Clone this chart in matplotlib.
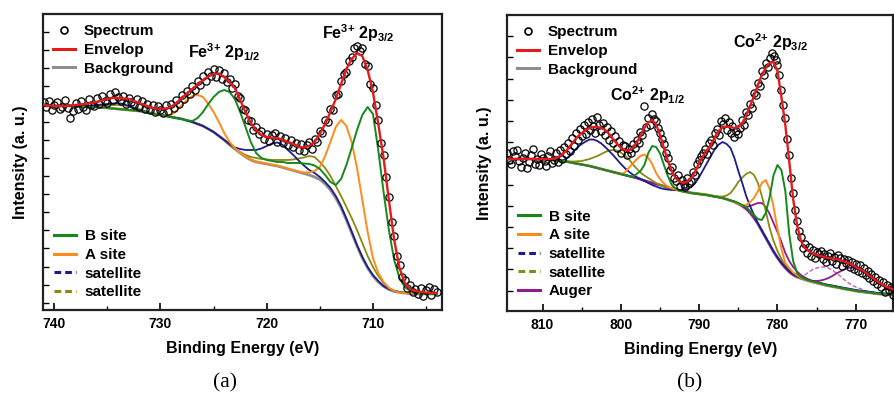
import numpy as np
import matplotlib
matplotlib.use("Agg")
import matplotlib.pyplot as plt
from matplotlib.lines import Line2D
from matplotlib.ticker import MultipleLocator, FixedLocator

plt.rcParams['font.family'] = ['Liberation Sans', 'DejaVu Sans']
plt.rcParams['mathtext.fontset'] = 'custom'
plt.rcParams['mathtext.rm'] = 'Liberation Sans'
plt.rcParams['mathtext.bf'] = 'Liberation Sans:bold'
plt.rcParams['mathtext.default'] = 'bf'

# ---------------- (a) Fe 2p ----------------
# fitted curves, 0.5 eV steps from 741 to 704 eV (intensity in a.u.)
energy_a = np.linspace(741, 704, 75)

bg_a = [204, 204, 204, 204, 204, 204, 204, 203.5, 203, 203,
        203, 202.5, 202, 201.5, 201, 200.5, 200, 199.5, 199, 198,
        197, 196, 195, 194, 193, 192, 191, 189.5, 188, 186,
        184, 181, 178, 174, 170, 165, 161, 157, 153, 150,
        148, 147, 146, 145, 144, 142.5, 141, 139.5, 138, 136.5,
        135, 133, 130.5, 126, 120, 112, 102, 90, 77, 64,
        52, 42, 34, 28, 23.5, 20.5, 18.5, 17.5, 17, 16.5,
        16, 16, 16, 16, 16]

env_a = [205, 204.5, 204, 204, 204, 204.5, 205, 205.5, 206, 207,
         208, 209.5, 211, 212, 212, 211.5, 211, 209, 207, 205,
         203, 201.5, 201, 201.5, 203, 207, 212, 216.5, 221, 225.5,
         230, 233.5, 236, 236.5, 233, 228, 222, 210, 198, 187,
         180, 175, 173, 172, 172, 170, 168, 166, 163, 162.5,
         164, 168, 176, 186, 198, 211, 226, 241, 251, 257,
         254, 240, 218, 186, 152, 110, 70, 42, 27, 21,
         19, 18, 17.5, 17, 17]

bsite_a = [204, 204, 204, 204, 204, 204, 204, 203.5, 203, 203,
           203, 202.5, 202, 201.5, 201, 200.5, 200, 199.5, 199, 198,
           197, 196, 195, 194, 193, 192, 191, 189.5, 189, 192,
           198, 206, 213, 218, 220, 218, 211, 198, 183, 168,
           157, 152, 150, 149, 148, 148, 147, 147, 147, 146.5,
           146, 144.5, 141, 135, 128, 125, 131, 145, 162, 180,
           195, 203, 196, 160, 118, 80, 50, 32, 23, 19,
           17, 16.5, 16, 16, 16]

asite_a = [204, 204, 204, 204, 204, 204, 204, 203.5, 203, 203,
           203, 202.5, 202, 201.5, 201, 200.5, 200, 199.5, 199, 198,
           197, 196, 195, 194, 195, 199, 205, 210, 214, 215,
           213, 206, 198, 188, 177, 168, 162, 157.5, 153.5, 150.5,
           148.5, 147.5, 146.5, 145.5, 144.5, 143, 141.5, 140, 138.5, 137.5,
           137.5, 139, 143, 154, 168, 183, 190, 184, 168, 142,
           110, 78, 52, 37, 28, 22, 19, 17.5, 17, 16.5,
           16, 16, 16, 16, 16]

sat1_a = [204, 204, 204, 204, 204, 204, 204, 204, 204, 204.5,
          205, 205.5, 206, 206.5, 207, 206, 204, 202, 200, 198.5,
          197, 196, 195, 194, 193, 192, 191, 189.5, 188, 186,
          184, 181, 178, 174, 170, 166, 162.5, 161, 160, 160,
          160, 161.5, 164, 166.5, 167.5, 165, 160, 155, 149.5, 144.5,
          140, 137, 133, 128, 122, 114, 104, 91.5, 78.5, 65,
          53, 43, 35, 29, 24, 21, 19, 18, 17, 16.5,
          16, 16, 16, 16, 16]

sat2_a = [204, 204, 204, 204, 204, 204, 204, 204, 204, 204,
          204, 204.5, 205, 205, 205, 204.5, 204, 202.5, 201, 199,
          197, 196, 195, 194, 193, 192, 191, 189.5, 188, 186,
          184, 181, 178, 174, 170, 165.5, 161.5, 158, 155, 153,
          152, 151, 150.5, 150, 150, 150, 150, 150.5, 151.5, 152.5,
          154, 153, 148, 142, 134, 124, 114, 103, 92, 80,
          67, 54, 43, 34, 27, 22, 19.5, 18, 17, 16.5,
          16, 16, 16, 16, 16]

# measured spectrum, 0.25 eV steps from 741 to 704 eV
spec_energy_a = np.linspace(741, 704, 149)
spec_a = [208, 203, 209, 200, 205, 208, 201, 203, 210, 202,
          192, 199, 207, 201, 209, 203, 200, 211, 205, 204,
          212, 206, 214, 209, 207, 216, 210, 218, 213, 209,
          214, 206, 212, 208, 205, 211, 203, 209, 201, 206,
          200, 205, 198, 204, 200, 197, 205, 199, 206, 202,
          210, 206, 215, 211, 219, 216, 224, 220, 229, 225,
          234, 229, 238, 234, 241, 233, 240, 231, 237, 228,
          231, 222, 226, 214, 212, 201, 200, 190, 189, 180,
          183, 176, 179, 171, 176, 169, 175, 177, 168, 174,
          167, 172, 165, 170, 163, 167, 160, 166, 159, 165,
          168, 161, 171, 168, 179, 177, 190, 188, 201, 200,
          215, 216, 229, 236, 238, 249, 253, 262, 264, 259,
          262, 246, 244, 226, 222, 205, 190, 167, 155, 133,
          113, 88, 74, 54, 45, 33, 30, 22, 25, 18,
          21, 16, 22, 14, 20, 23, 15, 21, 18]

# ---------------- (b) Co 2p ----------------
# fitted curves, 0.5 eV steps from 815 to 765 eV
energy_b = np.linspace(815, 765, 101)

bg_b = [152, 152, 152, 152, 152, 152, 152, 152, 152, 151.8,
        151.5, 151.2, 151, 150.8, 150.5, 150, 149.5, 148.8, 148, 147.2,
        146.5, 145.8, 145, 144, 143, 142, 141, 140, 139, 138,
        137, 136, 135, 134, 133, 131.8, 130.5, 129.2, 128, 127,
        126, 124.8, 123.5, 122.5, 121.5, 120.5, 119.5, 118.8, 118, 117.5,
        117, 116.5, 116, 115.2, 114.5, 113.8, 113, 111.8, 110.5, 109,
        107, 104.8, 102, 98, 93, 87, 80, 73, 66, 59,
        53, 47.5, 43, 39, 36, 34, 32.5, 31.2, 30, 29,
        28, 27, 26, 25.2, 24.5, 23.8, 23, 22.2, 21.5, 20.8,
        20, 19.5, 19, 18.5, 18, 17.5, 17, 16.8, 16.5, 16.2,
        16]

env_b = [152, 152, 152, 152, 152, 152, 152, 152, 152, 152,
         152, 152, 152, 152.5, 154, 156.5, 160, 165, 170, 174.5,
         178, 181, 183, 184, 184, 183, 181, 177, 172, 167.5,
         163, 161, 160.5, 163, 168, 175, 183, 188.5, 191, 186.5,
         176, 163, 150, 140, 133, 129.5, 128, 129.5, 133, 139.5,
         148, 155, 161, 166, 174, 180, 184, 184.5, 184, 183,
         184, 188, 195, 205, 215, 226, 236, 243, 248, 249,
         240, 214, 186, 150, 112, 86, 70, 63, 60, 58,
         56, 55, 54, 53, 52.5, 52, 51, 49.5, 48, 46.5,
         44, 42, 40, 37, 34, 31, 28.5, 26, 24, 22.5,
         21]

bsite_b = [152, 152, 152, 152, 152, 152, 152, 152, 152, 151.8,
           151.5, 151.2, 151, 150.8, 150.5, 150, 149.5, 148.8, 148, 147.2,
           146.5, 145.8, 145, 144, 143, 142, 141, 140, 139, 138,
           137, 136, 135, 134, 137, 140, 146, 158, 165, 164,
           157.5, 146, 135, 126, 122.5, 120.5, 119.5, 118.8, 118, 117.5,
           117, 116.5, 116, 115.2, 114.5, 113.8, 113, 111.8, 110.5, 109.5,
           108, 106, 104, 100, 96, 92, 91, 98, 114, 136,
           146, 141, 120, 77, 50, 38, 34, 32, 30.5, 29.5,
           28.5, 27.5, 26.5, 25.5, 24.8, 24, 23.2, 22.4, 21.7, 21,
           20.2, 19.7, 19.2, 18.7, 18.2, 17.7, 17.2, 16.9, 16.6, 16.3,
           16]

asite_b = [152, 152, 152, 152, 152, 152, 152, 152, 152, 151.8,
           151.5, 151.2, 151, 150.8, 150.5, 150, 149.5, 148.8, 148, 147.2,
           146.5, 145.8, 145, 144, 143, 142, 141, 140, 139, 138,
           137, 138.5, 143, 147.5, 151.5, 155, 156.5, 153, 147, 138,
           132, 127.5, 124.5, 122.5, 121.5, 120.5, 119.5, 118.8, 118, 117.5,
           117, 116.5, 116, 115.2, 114.5, 113.8, 113, 111.8, 110.5, 109,
           107, 105.5, 106, 109, 113, 120, 128, 131, 122, 104,
           82, 62, 48, 43, 38.5, 35.8, 33.2, 31.6, 30.1, 29,
           28, 27, 26, 25.2, 24.5, 23.8, 23, 22.2, 21.5, 20.8,
           20, 19.5, 19, 18.5, 18, 17.5, 17, 16.8, 16.5, 16.2,
           16]

sat1_b = [152, 152, 152, 152, 152, 152, 152, 152, 152, 151.8,
          151.5, 151.2, 151, 150.8, 150.5, 150.5, 152, 155.5, 160, 164,
          167, 169.5, 171.5, 171.5, 170, 167.5, 164, 160, 156, 151.5,
          147, 143, 139.5, 136.5, 134, 132, 130, 128, 126, 124.5,
          123, 122, 121.5, 121, 121, 121, 121, 122, 124, 128,
          134, 141, 148, 155, 162, 166.5, 169, 167, 163, 153,
          140, 128, 115, 105, 96, 88, 81, 74, 67, 60,
          54, 48.5, 44, 40, 37, 35, 33.5, 32.2, 31, 30,
          29, 28, 27, 26.2, 25.5, 24.8, 24, 23.2, 22.5, 21.8,
          21, 20.5, 20, 19.5, 19, 18.5, 18, 17.8, 17.5, 17.2,
          17]

sat2_b = [152, 152, 152, 152, 152, 152, 152, 152, 152, 151.8,
          151.5, 151.2, 151, 150.8, 150.5, 150, 149.8, 149.5, 149.5, 149.8,
          150, 151, 152, 153.5, 155, 157, 159, 160.5, 161, 160.5,
          158.5, 155.5, 152, 147, 142.5, 138.5, 135.5, 133, 130.5, 128,
          126, 124.5, 123.5, 122.5, 122, 121, 120, 119, 118.5, 118,
          117.5, 117, 116.5, 115.8, 115, 114.5, 114.5, 115.5, 118, 123,
          129, 133.5, 137, 139, 136, 128, 115, 100, 83, 70,
          60, 52, 46, 41, 37.5, 35, 33, 31.7, 30.5, 29.5,
          28.5, 27.5, 26.5, 25.7, 25, 24.3, 23.5, 22.7, 22, 21.3,
          20.5, 20, 19.5, 19, 18.5, 18, 17.5, 17.3, 17, 16.7,
          16.5]

auger1_b = [152, 152, 152, 152, 152, 152, 152, 152, 152, 151.8,
            151.5, 151.2, 151, 150.8, 150.5, 150, 149.5, 148.8, 148, 147.2,
            146.5, 145.8, 145, 144, 143, 142, 141, 140, 139, 138,
            137, 136, 135, 134, 133, 131.8, 130.5, 129.2, 128, 127,
            126, 124.8, 123.5, 122.5, 121.5, 120.5, 119.5, 118.8, 118, 117.5,
            117, 116.5, 116, 115.2, 114.5, 113.8, 113, 111.8, 110.5, 109.5,
            107.5, 105.5, 104, 105, 106.5, 108, 108, 104, 97, 88,
            79, 69, 58, 50, 44, 39.5, 36, 33.5, 31.5, 30,
            28.8, 27.6, 26.5, 25.3, 24.5, 23.8, 23, 22.2, 21.5, 20.8,
            20, 19.5, 19, 18.5, 18, 17.5, 17, 16.8, 16.5, 16.2,
            16]

auger2_b = [152, 152, 152, 152, 152, 152, 152, 152, 152, 151.8,
            151.5, 151.2, 151, 150.8, 150.5, 150, 149.5, 148.8, 148, 147.2,
            146.5, 145.8, 145, 144, 143, 142, 141, 140, 139, 138,
            137, 136, 135, 134, 133, 131.8, 130.5, 129.2, 128, 127,
            126, 124.8, 123.5, 122.5, 121.5, 120.5, 119.5, 118.8, 118, 117.5,
            117, 116.5, 116, 115.2, 114.5, 113.8, 113, 111.8, 110.5, 109,
            107, 104.8, 102, 98, 93, 87, 80, 73, 66, 59,
            53, 47.5, 43, 39, 36, 34.5, 34, 36, 39, 41.5,
            43, 44, 44, 43, 41, 38, 35, 31.5, 28.5, 26,
            24, 22.5, 21, 19.8, 18.8, 18, 17.3, 16.8, 16.5, 16.2,
            16]

auger3_b = [152, 152, 152, 152, 152, 152, 152, 152, 152, 151.8,
            151.5, 151.2, 151, 150.8, 150.5, 150, 149.5, 148.8, 148, 147.2,
            146.5, 145.8, 145, 144, 143, 142, 141, 140, 139, 138,
            137, 136, 135, 134, 133, 131.8, 130.5, 129.2, 128, 127,
            126, 124.8, 123.5, 122.5, 121.5, 120.5, 119.5, 118.8, 118, 117.5,
            117, 116.5, 116, 115.2, 114.5, 113.8, 113, 111.8, 110.5, 109,
            107, 104.8, 102, 98, 93, 87, 80, 73, 66, 59,
            53, 47.5, 43, 39, 36, 34, 32.8, 31.5, 30.5, 30,
            30, 30.5, 31.5, 33, 35, 37.5, 39.5, 41.5, 43, 43.5,
            42.5, 41, 39, 36.5, 34, 31, 28, 25.5, 23, 21,
            19]

# measured spectrum, 0.25 eV steps from 814.5 to 765 eV
spec_energy_b = np.linspace(814.5, 765, 199)
spec_b = [158, 151, 147, 160, 155, 161, 150, 144, 153, 158,
          143, 149, 156, 162, 147, 152, 146, 157, 153, 150,
          145, 155, 160, 148, 151, 158, 149, 161, 152, 164,
          157, 168, 160, 173, 165, 178, 171, 182, 175, 186,
          177, 189, 181, 192, 185, 178, 194, 186, 180, 188,
          176, 184, 171, 180, 168, 175, 163, 170, 158, 166,
          165, 156, 162, 158, 167, 163, 171, 168, 179, 176,
          205, 184, 193, 186, 197, 192, 190, 183, 178, 172,
          167, 158, 153, 141, 144, 133, 130, 136, 125, 131,
          127, 124, 133, 128, 130, 139, 136, 147, 151, 155,
          158, 162, 157, 168, 171, 166, 178, 182, 176, 190,
          187, 193, 181, 189, 178, 185, 174, 180, 177, 183,
          191, 186, 199, 196, 207, 203, 218, 216, 228, 225,
          240, 236, 248, 244, 253, 258, 255, 251, 246, 236,
          221, 206, 193, 172, 156, 133, 118, 101, 90, 80,
          74, 63, 67, 58, 64, 55, 61, 53, 59, 57,
          60, 52, 57, 49, 55, 58, 50, 54, 47, 56,
          53, 45, 52, 48, 51, 44, 49, 42, 47, 40,
          46, 38, 43, 36, 40, 33, 37, 30, 34, 27,
          31, 24, 29, 19, 26, 21, 24, 16, 23]

# colours
RED = '#e41a1c'
GRAY = '#8f8f8f'
GREEN = '#15891a'
ORANGE = '#ff8c1a'
NAVY = '#1c1c8f'
OLIVE = '#8a8a12'
PURPLE = '#8e1c8e'


def style_axis(ax, xlim, yticks):
    ax.set_xlim(*xlim)
    ax.set_ylim(0, 296)
    ax.xaxis.set_major_locator(MultipleLocator(10))
    ax.xaxis.set_minor_locator(MultipleLocator(5))
    ax.yaxis.set_major_locator(FixedLocator(yticks))
    ax.tick_params(axis='x', which='major', direction='in', length=5, width=1.2,
                   labelsize=10, pad=5, top=False)
    ax.tick_params(axis='x', which='minor', direction='in', length=3, width=1.0, top=False)
    ax.tick_params(axis='y', which='both', direction='in', length=4, width=1.0,
                   labelleft=False, right=False)
    for lbl in ax.get_xticklabels():
        lbl.set_fontweight('bold')
    for sp in ax.spines.values():
        sp.set_linewidth(1.6)
        sp.set_color('#222222')
    ax.set_xlabel('Binding Energy (eV)', fontsize=11.5, fontweight='bold', labelpad=7)
    ax.set_ylabel('Intensity (a. u.)', fontsize=11.5, fontweight='bold', labelpad=11)


def add_legends(ax, top_y, low_y, with_auger):
    top_handles = [
        Line2D([], [], marker='o', ls='none', mfc='none', mec='k', ms=5, mew=1.2),
        Line2D([], [], color=RED, lw=2.2),
        Line2D([], [], color=GRAY, lw=2.2),
    ]
    leg1 = ax.legend(top_handles, ['Spectrum', 'Envelop', 'Background'],
                     loc='upper left', bbox_to_anchor=(0.025, top_y), frameon=False,
                     handlelength=1.45, handletextpad=0.55,
                     labelspacing=0.3, borderpad=0, borderaxespad=0,
                     prop={'weight': 'bold', 'size': 11})
    ax.add_artist(leg1)
    low_handles = [
        Line2D([], [], color=GREEN, lw=2.2),
        Line2D([], [], color=ORANGE, lw=2.2),
        Line2D([], [], color=NAVY, lw=2.2, ls=(0, (2.2, 1.3))),
        Line2D([], [], color=OLIVE, lw=2.2, ls=(0, (2.2, 1.3))),
    ]
    low_labels = ['B site', 'A site', 'satellite', 'satellite']
    if with_auger:
        low_handles.append(Line2D([], [], color=PURPLE, lw=2.2))
        low_labels.append('Auger')
    ax.legend(low_handles, low_labels, loc='upper left', bbox_to_anchor=(0.028, low_y),
              frameon=False, handlelength=1.45, handletextpad=0.55,
              labelspacing=0.3, borderpad=0, borderaxespad=0,
              prop={'weight': 'bold', 'size': 11})


fig = plt.figure(figsize=(8.94, 3.96), dpi=100)
ax_a = fig.add_axes([0.0481, 0.2172, 0.4463, 0.7475])
ax_b = fig.add_axes([0.5675, 0.2146, 0.4318, 0.7475])

# panel (a)
ax_a.plot(energy_a, bg_a, color=GRAY, lw=2.0, zorder=2)
ax_a.plot(energy_a, sat2_a, color=OLIVE, lw=1.3, zorder=2)
ax_a.plot(energy_a, sat1_a, color=NAVY, lw=1.3, zorder=2)
ax_a.plot(energy_a, asite_a, color=ORANGE, lw=1.4, zorder=2)
ax_a.plot(energy_a, bsite_a, color=GREEN, lw=1.4, zorder=2)
ax_a.plot(spec_energy_a, spec_a, 'o', mfc='none', mec='k', ms=5.2, mew=0.9, zorder=3)
ax_a.plot(energy_a, env_a, color=RED, lw=1.7, zorder=4)
style_axis(ax_a, (741.06, 703.5), np.arange(7.3, 290, 18.07))
add_legends(ax_a, 0.965, 0.272, False)
ax_a.text(0.363, 0.872, r'Fe$^{3{+}}$ 2p$_{1/2}$', transform=ax_a.transAxes,
          fontsize=11.5, fontweight='bold', va='center', ha='left')
ax_a.text(0.699, 0.936, r'Fe$^{3{+}}$ 2p$_{3/2}$', transform=ax_a.transAxes,
          fontsize=11.5, fontweight='bold', va='center', ha='left')

# panel (b)
ax_b.plot(energy_b, bg_b, color=GRAY, lw=2.0, zorder=2)
ax_b.plot(energy_b, auger2_b, color='#c060c0', lw=1.0, ls=(0, (3, 1.5)), zorder=2)
ax_b.plot(energy_b, auger3_b, color=PURPLE, lw=1.3, zorder=2)
ax_b.plot(energy_b, auger1_b, color=PURPLE, lw=1.3, zorder=2)
ax_b.plot(energy_b, sat2_b, color=OLIVE, lw=1.3, zorder=2)
ax_b.plot(energy_b, sat1_b, color=NAVY, lw=1.3, zorder=2)
ax_b.plot(energy_b, asite_b, color=ORANGE, lw=1.4, zorder=2)
ax_b.plot(energy_b, bsite_b, color=GREEN, lw=1.4, zorder=2)
ax_b.plot(spec_energy_b, spec_b, 'o', mfc='none', mec='k', ms=5.2, mew=0.9, zorder=3)
ax_b.plot(energy_b, env_b, color=RED, lw=1.7, zorder=4)
style_axis(ax_b, (814.5, 765.2), np.arange(20.3, 290, 21.22))
add_legends(ax_b, 0.965, 0.342, True)
ax_b.text(0.266, 0.730, r'Co$^{2{+}}$ 2p$_{1/2}$', transform=ax_b.transAxes,
          fontsize=11.5, fontweight='bold', va='center', ha='left')
ax_b.text(0.585, 0.909, r'Co$^{2{+}}$ 2p$_{3/2}$', transform=ax_b.transAxes,
          fontsize=11.5, fontweight='bold', va='center', ha='left')

fig.text(225 / 894, 1 - 383 / 396, '(a)', ha='center', va='center',
         family='Liberation Serif', fontsize=15.5)
fig.text(690 / 894, 1 - 383 / 396, '(b)', ha='center', va='center',
         family='Liberation Serif', fontsize=15.5)

fig.savefig('out.png', dpi=100)
